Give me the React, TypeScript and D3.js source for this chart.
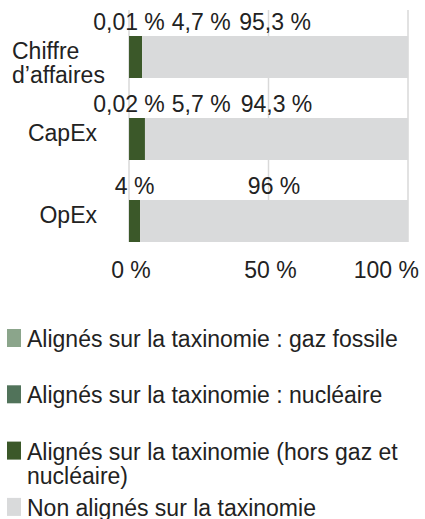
import React, { useEffect, useRef } from "react";
import * as d3 from "d3";

// chart data
const categories = ["Chiffre\nd’affaires", "CapEx", "OpEx"];
const seriesNames = [
  "Alignés sur la taxinomie : gaz fossile",
  "Alignés sur la taxinomie : nucléaire",
  "Alignés sur la taxinomie (hors gaz et nucléaire)",
  "Non alignés sur la taxinomie",
];
const seriesColors = ["#8ba58b", "#51735a", "#3b5829", "#d9dadb"];
const gasValues = [0, 0, 0];
const nuclearValues = [0.01, 0.02, 0];
const otherAlignedValues = [4.7, 5.7, 4];
const notAlignedValues = [95.3, 94.3, 96];
const tickValues = [0, 50, 100];

const W = 425;
const H = 519;
const FONT = "'Liberation Sans', Arial, sans-serif";
const LINE_H = 24;

const frLocale = d3.formatLocale({
  decimal: ",",
  thousands: " ",
  grouping: [3],
  currency: ["", " €"],
});
const fmt = frLocale.format("~g");
const pct = (v: number) => `${fmt(v)} %`;

function Chart() {
  const ref = useRef<SVGSVGElement>(null);

  useEffect(() => {
    const svg = d3.select(ref.current);
    svg.selectAll("*").remove();

    const columns = [gasValues, nuclearValues, otherAlignedValues, notAlignedValues];
    const keys = seriesNames.map((_, i) => `s${i}`);
    const table = categories.map((c, ci) => {
      const row: any = { cat: c };
      columns.forEach((col, si) => (row[keys[si]] = col[ci]));
      return row;
    });
    const stacked = d3.stack().keys(keys)(table);

    const x = d3.scaleLinear().domain([0, 100]).range([129, 408]);
    const y = d3
      .scaleBand()
      .domain(categories)
      .range([16, 262])
      .paddingInner(40 / 82)
      .paddingOuter(20 / 82);

    const plotTop = 10;
    const plotBottom = (y(categories[categories.length - 1]) as number) + y.bandwidth();

    // gridlines
    svg
      .append("g")
      .selectAll("line")
      .data(tickValues)
      .enter()
      .append("line")
      .attr("x1", (d) => x(d))
      .attr("x2", (d) => x(d))
      .attr("y1", plotTop)
      .attr("y2", plotBottom)
      .attr("stroke", "#d9d9d9")
      .attr("stroke-width", 1.5);

    // bars
    svg
      .append("g")
      .selectAll("g")
      .data(stacked)
      .enter()
      .append("g")
      .attr("fill", (_, i) => seriesColors[i])
      .selectAll("rect")
      .data((d) => d)
      .enter()
      .append("rect")
      .attr("x", (d) => x(d[0]))
      .attr("y", (d: any) => y(d.data.cat) as number)
      .attr("width", (d) => Math.max(0, x(d[1]) - x(d[0])))
      .attr("height", y.bandwidth());

    // data labels above bars, pushed apart when they collide
    const labelG = svg.append("g").attr("font-family", FONT).attr("font-size", 23).attr("fill", "#222");
    categories.forEach((cat, ci) => {
      const top = y(cat) as number;
      const items = stacked
        .map((layer) => layer[ci])
        .filter((d) => d[1] - d[0] > 0)
        .map((d) => {
          const t = labelG
            .append("text")
            .attr("y", top - 6)
            .attr("text-anchor", "start")
            .text(pct(d[1] - d[0]));
          const w = (t.node() as SVGTextElement).getComputedTextLength();
          return { t, w, start: (x(d[0]) + x(d[1])) / 2 - w / 2 };
        });
      let prevEnd = -Infinity;
      items.forEach((it) => {
        if (it.start < prevEnd + 7) it.start = prevEnd + 7;
        prevEnd = it.start + it.w;
        it.t.attr("x", it.start);
      });
    });

    // category labels
    const catG = svg.append("g").attr("font-family", FONT).attr("font-size", 23).attr("fill", "#222");
    categories.forEach((cat) => {
      const lines = cat.split("\n");
      const cy = (y(cat) as number) + y.bandwidth() / 2;
      const t = catG.append("text");
      lines.forEach((ln, li) => {
        t.append("tspan").attr("y", cy + 2 + li * LINE_H).text(ln);
      });
      const maxW = d3.max(
        t.selectAll<SVGTSpanElement, unknown>("tspan").nodes(),
        (n) => n.getComputedTextLength()
      ) as number;
      const x0 = Math.max(12, 97 - maxW);
      t.selectAll("tspan").attr("x", x0);
    });

    // x tick labels
    const tickG = svg.append("g").attr("font-family", FONT).attr("font-size", 23).attr("fill", "#222");
    tickValues.forEach((v) => {
      const t = tickG.append("text").attr("y", 278).text(pct(v));
      const w = (t.node() as SVGTextElement).getComputedTextLength();
      const left = Math.min(x(v) + 2 - w / 2, W - 6 - w);
      t.attr("x", left);
    });

    // legend
    const legG = svg.append("g").attr("font-family", FONT).attr("font-size", 23).attr("fill", "#222");
    const maxTextW = W - 27 - 20;
    seriesNames.forEach((name, i) => {
      const base = 347 + i * 56.3;
      legG
        .append("rect")
        .attr("x", 7)
        .attr("y", base - 18)
        .attr("width", 14)
        .attr("height", 18)
        .attr("fill", seriesColors[i]);
      const t = legG.append("text").attr("x", 27).attr("y", base);
      // simple word wrap
      const words = name.split(" ");
      let line: string[] = [];
      let lineNo = 0;
      let tspan = t.append("tspan").attr("x", 27).attr("y", base);
      words.forEach((w) => {
        line.push(w);
        tspan.text(line.join(" "));
        if ((tspan.node() as SVGTSpanElement).getComputedTextLength() > maxTextW && line.length > 1) {
          line.pop();
          tspan.text(line.join(" "));
          line = [w];
          lineNo += 1;
          tspan = t.append("tspan").attr("x", 27).attr("y", base + lineNo * LINE_H).text(w);
        }
      });
    });
  }, []);

  return (
    <svg
      ref={ref}
      width={W}
      height={H}
      style={{ position: "absolute", left: 0, top: 0, background: "#fff" }}
    />
  );
}

export default function App() {
  return <Chart />;
}
